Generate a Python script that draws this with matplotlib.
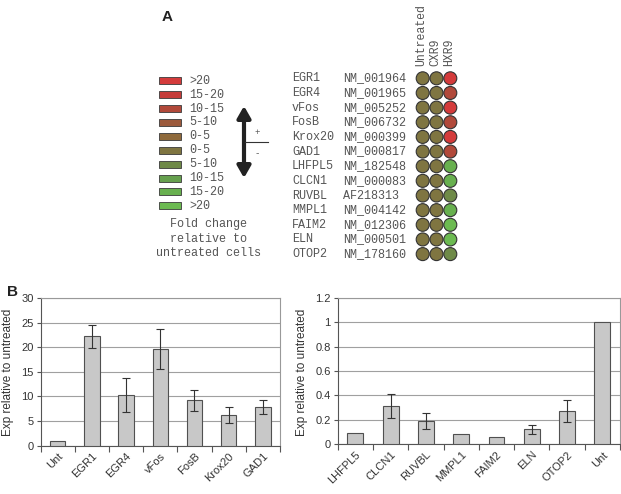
import numpy as np
import matplotlib.pyplot as plt
from matplotlib.patches import Circle, Rectangle, FancyArrowPatch

# ---- данные панели A ----
legend_labels = ['>20', '15-20', '10-15', '5-10', '0-5', '0-5', '5-10', '10-15', '15-20', '>20']
legend_colors = ['#d43b3b', '#c63c3a', '#b1493a', '#9c5a3c', '#8f6a3c',
                 '#7f7541', '#6f8a48', '#66a04e', '#68b04f', '#6cba51']

genes = ['EGR1', 'EGR4', 'vFos', 'FosB', 'Krox20', 'GAD1', 'LHFPL5',
         'CLCN1', 'RUVBL', 'MMPL1', 'FAIM2', 'ELN', 'OTOP2']
accessions = ['NM_001964', 'NM_001965', 'NM_005252', 'NM_006732', 'NM_000399',
              'NM_000817', 'NM_182548', 'NM_000083', 'AF218313', 'NM_004142',
              'NM_012306', 'NM_000501', 'NM_178160']
conditions = ['Untreated', 'CXR9', 'HXR9']
# індекс кольору легенди для кожної клітинки (Untreated, CXR9, HXR9)
untreated_cls = [5] * 13
cxr9_cls = [5] * 13
hxr9_cls = [0, 2, 0, 2, 0, 2, 8, 8, 6, 8, 9, 9, 6]

# ---- дані панелі B ----
left_cats = ['Unt', 'EGR1', 'EGR4', 'vFos', 'FosB', 'Krox20', 'GAD1']
left_vals = [1.0, 22.2, 10.3, 19.6, 9.2, 6.3, 7.8]
left_err = [0, 2.3, 3.5, 4.1, 2.1, 1.6, 1.4]

right_cats = ['LHFPL5', 'CLCN1', 'RUVBL', 'MMPL1', 'FAIM2', 'ELN', 'OTOP2', 'Unt']
right_vals = [0.088, 0.31, 0.19, 0.082, 0.055, 0.12, 0.27, 1.0]
right_err = [0, 0.098, 0.063, 0, 0, 0.037, 0.092, 0]

W, H = 621, 494
fig = plt.figure(figsize=(W / 100, H / 100), dpi=100)
fig.patch.set_facecolor('white')

mono = 'Liberation Mono'
sans = 'Liberation Sans'
txt_col = '#555555'
fs_mono = 8.5

# ---- панель A: полотно в піксельних координатах ----
axA = fig.add_axes([0, 0, 1, 1])
axA.set_xlim(0, W)
axA.set_ylim(H, 0)
axA.axis('off')

axA.text(162, 17, 'A', fontsize=11, fontweight='bold', family=sans,
         ha='left', va='center', color='#222222')

# легенда
for i, (lab, col) in enumerate(zip(legend_labels, legend_colors)):
    y = 80.7 + i * 13.9
    axA.add_patch(Rectangle((159, y - 3.5), 22, 7, facecolor=col,
                            edgecolor='#3a3a3a', lw=0.6))
    axA.text(189, y, lab, fontsize=fs_mono, family=mono, color=txt_col,
             ha='left', va='center')
for j, line in enumerate(['Fold change', 'relative to', 'untreated cells']):
    axA.text(208, 224 + j * 14.6, line, fontsize=fs_mono, family=mono,
             color=txt_col, ha='center', va='center')

# стрілка
axA.add_patch(FancyArrowPatch((244, 106), (244, 178),
                              arrowstyle='<|-|>,head_length=7,head_width=4',
                              lw=3, color='#222222', mutation_scale=1,
                              shrinkA=0, shrinkB=0))
axA.plot([245, 268], [142, 142], color='#333333', lw=0.8)
axA.text(257, 132, '+', fontsize=6.5, family=mono, color=txt_col, ha='center', va='center')
axA.text(257, 154, '-', fontsize=6.5, family=mono, color=txt_col, ha='center', va='center')

# гени і кружечки
dot_x = [422.7, 436.5, 450.3]
cls_cols = [untreated_cls, cxr9_cls, hxr9_cls]
for i, (g, acc) in enumerate(zip(genes, accessions)):
    y = 78.3 + i * 14.65
    axA.text(292, y, g, fontsize=fs_mono, family=mono, color=txt_col, ha='left', va='center')
    axA.text(343, y, acc, fontsize=fs_mono, family=mono, color=txt_col, ha='left', va='center')
    for x, cls in zip(dot_x, cls_cols):
        axA.add_patch(Circle((x, y), 6.5, facecolor=legend_colors[cls[i]],
                             edgecolor='#333333', lw=0.8))
for x, c in zip(dot_x, conditions):
    axA.text(x - 1, 66, c, fontsize=8.3, family=mono, color=txt_col,
             rotation=90, ha='center', va='bottom')

axA.text(7, 292, 'B', fontsize=11, fontweight='bold', family=sans,
         ha='left', va='center', color='#222222')


# ---- панель B ----
def bar_panel(rect, cats, vals, errs, ymax, step, fmt):
    ax = fig.add_axes(rect)
    x = np.arange(len(cats))
    ax.bar(x, vals, width=0.45, color='#c8c8c8', edgecolor='#505050', lw=0.8, zorder=3)
    e = np.array(errs)
    m = e > 0
    ax.errorbar(x[m], np.array(vals)[m], yerr=e[m], fmt='none', ecolor='#333333',
                elinewidth=0.8, capsize=3, capthick=0.8, zorder=4)
    ax.set_xlim(-0.5, len(cats) - 0.5)
    ax.set_ylim(0, ymax)
    ticks = np.arange(0, ymax + step / 2, step)
    ax.set_yticks(ticks)
    ax.set_yticklabels([fmt(t) for t in ticks], fontsize=8, family=sans, color='#333333')
    ax.yaxis.grid(True, color='#a0a0a0', lw=0.8, zorder=0)
    ax.set_axisbelow(True)
    ax.set_xticks(x)
    ax.set_xticklabels(cats, rotation=45, ha='right', rotation_mode='anchor',
                       fontsize=8, family=sans, color='#333333')
    ax.tick_params(axis='x', length=0, pad=4)
    ax.set_xticks(np.arange(-0.5, len(cats)), minor=True)
    ax.tick_params(axis='x', which='minor', length=4, color='#555555', width=0.8)
    ax.tick_params(axis='y', length=3, color='#555555', width=0.8, pad=2)
    for s in ['top', 'right']:
        ax.spines[s].set_color('#999999')
        ax.spines[s].set_linewidth(0.8)
    for s in ['left', 'bottom']:
        ax.spines[s].set_color('#555555')
        ax.spines[s].set_linewidth(0.8)
    return ax


axL = bar_panel([0.0655, 0.0978, 0.3853, 0.299], left_cats, left_vals, left_err,
                30, 5, lambda t: f'{t:.0f}')
axR = bar_panel([0.5438, 0.1012, 0.4546, 0.2955], right_cats, right_vals, right_err,
                1.2, 0.2, lambda t: f'{t:.1f}'.rstrip('0').rstrip('.') if t else '0')

fig.text(8 / W, 1 - 372 / H, 'Exp relative to untreated', rotation=90, fontsize=8.5,
         family=sans, color='#333333', ha='center', va='center')
fig.text(302 / W, 1 - 372 / H, 'Exp relative to untreated', rotation=90, fontsize=8.5,
         family=sans, color='#333333', ha='center', va='center')

fig.savefig('out.png', dpi=100)
